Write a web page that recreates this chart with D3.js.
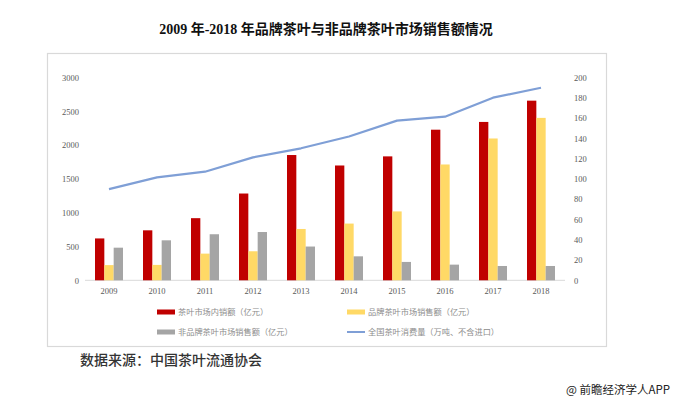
<!DOCTYPE html>
<html><head><meta charset="utf-8">
<script src="https://cdn.jsdelivr.net/npm/d3@7"></script>
<style>
html,body{margin:0;padding:0;background:#fff;}
svg{display:block;}
</style></head>
<body>
<svg id="chart" width="680" height="402"></svg>
<script>
const years = ["2009","2010","2011","2012","2013","2014","2015","2016","2017","2018"];
const domesticSales = [620, 740, 920, 1285, 1855, 1700, 1835, 2230, 2345, 2660];
const brandSales = [225, 228, 395, 430, 760, 840, 1020, 1715, 2100, 2405];
const nonBrandSales = [483, 592, 682, 715, 500, 355, 272, 232, 212, 212];
const consumption = [90, 101.6, 107.2, 121.4, 130.3, 142, 157.6, 161.5, 180.3, 190.1];
const leftTicks = [0, 500, 1000, 1500, 2000, 2500, 3000];
const rightTicks = [0, 20, 40, 60, 80, 100, 120, 140, 160, 180, 200];
const seriesNames = ["茶叶市场内销额（亿元）", "品牌茶叶市场销售额（亿元）", "非品牌茶叶市场销售额（亿元）", "全国茶叶消费量（万吨、不含进口）"];
const colors = ["#c00000", "#ffd966", "#a5a5a5", "#7f9fd6"];

const svg = d3.select("#chart");
const serif = "'Liberation Serif','Noto Sans CJK SC',serif";

// title
svg.append("text").attr("x", 326).attr("y", 34).attr("text-anchor", "middle")
  .style("font-family", serif).style("font-weight", "bold").style("font-size", "14px")
  .attr("fill", "#111").text("2009 年-2018 年品牌茶叶与非品牌茶叶市场销售额情况");

// frame
svg.append("rect").attr("x", 47.5).attr("y", 53.5).attr("width", 559).attr("height", 293)
  .attr("fill", "#fff").attr("stroke", "#d9d9d9").attr("stroke-width", 1.2);

const x0 = d3.scaleBand().domain(years).range([85, 565]).paddingInner(0).paddingOuter(0);
const yL = d3.scaleLinear().domain([0, 3000]).range([280.3, 77.7]);
const yR = d3.scaleLinear().domain([0, 200]).range([280.3, 77.7]);
const groupW = 28;
const x1 = d3.scaleBand().domain([0, 1, 2]).range([0, groupW]);

// baseline
svg.append("line").attr("x1", 85).attr("x2", 565).attr("y1", yL(0)).attr("y2", yL(0))
  .attr("stroke", "#d9d9d9").attr("stroke-width", 1);

const barSeries = [domesticSales, brandSales, nonBrandSales];
barSeries.forEach((vals, si) => {
  svg.append("g").selectAll("rect").data(vals).join("rect")
    .attr("x", (d, i) => x0(years[i]) + x0.bandwidth() / 2 - groupW / 2 + x1(si))
    .attr("width", x1.bandwidth())
    .attr("y", d => yL(d))
    .attr("height", d => yL(0) - yL(d))
    .attr("fill", colors[si]);
});

// line
const line = d3.line().x((d, i) => x0(years[i]) + x0.bandwidth() / 2).y(d => yR(d));
svg.append("path").datum(consumption).attr("d", line).attr("fill", "none")
  .attr("stroke", colors[3]).attr("stroke-width", 2.2).attr("stroke-linejoin", "round");

// left axis
const axL = d3.axisLeft(yL).tickValues(leftTicks).tickFormat(d3.format("d")).tickSize(0).tickPadding(0);
const gL = svg.append("g").attr("transform", "translate(79,0)").call(axL);
gL.select(".domain").remove();
gL.selectAll("text").style("font-family", serif).style("font-size", "8.5px").attr("fill", "#595959");

// right axis
const axR = d3.axisRight(yR).tickValues(rightTicks).tickFormat(d3.format("d")).tickSize(0).tickPadding(0);
const gR = svg.append("g").attr("transform", "translate(574,0)").call(axR);
gR.select(".domain").remove();
gR.selectAll("text").style("font-family", serif).style("font-size", "8.5px").attr("fill", "#595959");

// bottom axis
const axB = d3.axisBottom(x0).tickSize(0).tickPadding(0);
const gB = svg.append("g").attr("transform", "translate(0,288)").call(axB);
gB.select(".domain").remove();
gB.selectAll("text").style("font-family", serif).style("font-size", "8.5px").attr("fill", "#595959").attr("dy", "0.71em");

// legend
const legPos = [[157, 312], [347, 312], [157, 332], [347, 332]];
seriesNames.forEach((name, i) => {
  const g = svg.append("g").attr("transform", `translate(${legPos[i][0]},${legPos[i][1]})`);
  if (i < 3) g.append("rect").attr("x", 0).attr("y", -2.5).attr("width", 18).attr("height", 5).attr("fill", colors[i]);
  else g.append("line").attr("x1", 0).attr("x2", 18).attr("y1", 0).attr("y2", 0).attr("stroke", colors[i]).attr("stroke-width", 2);
  g.append("text").attr("x", 21).attr("y", 0).attr("dy", "0.35em")
    .style("font-family", "'Noto Sans CJK SC',sans-serif").style("font-size", "8.2px")
    .attr("fill", "#8c8c8c").text(name);
});

// source
svg.append("text").attr("x", 80).attr("y", 365)
  .style("font-family", "'Noto Sans CJK SC',sans-serif").style("font-size", "14px").style("font-weight", "500")
  .attr("fill", "#333").text("数据来源：中国茶叶流通协会");

// watermark
svg.append("text").attr("x", 566).attr("y", 394)
  .style("font-family", "'Noto Sans CJK SC',sans-serif").style("font-size", "11.5px")
  .attr("fill", "#222").text("@ 前瞻经济学人APP");
</script>
</body></html>
